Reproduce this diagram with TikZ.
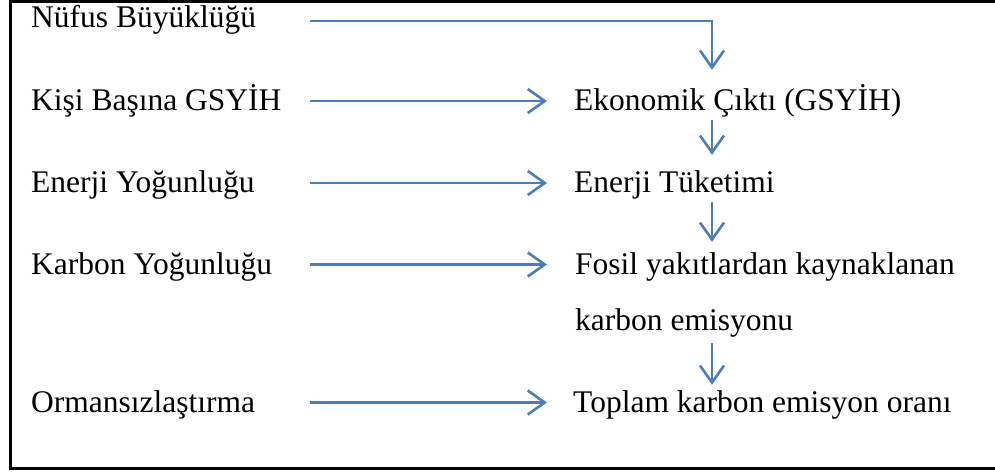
\documentclass[tikz,border=0pt]{standalone}
\usepackage{fontspec}
\setmainfont{Liberation Serif}
\usetikzlibrary{arrows.meta}
\definecolor{arrowblue}{RGB}{74,126,187}

\begin{document}
\begin{tikzpicture}[x=1pt,y=1pt]
\tikzset{every node/.style={inner sep=0pt,text height=20pt,text depth=0pt,anchor=west,font=\fontsize{31.5}{38}\selectfont}}
\tikzset{arr/.style={draw=arrowblue,line width=2.6pt,-{Straight Barb[length=17pt,width=24pt]}}}
\useasboundingbox (0,0) rectangle (995,-473);
\draw [black,line width=2.8pt] (995,-1.2) -- (10.5,-1.2) -- (10.5,-468.5) -- (995,-468.5);
\coordinate (lx) at (310,0);
\coordinate (cx) at (712,0);
% left column
\node [text height=14pt] (nufus) at (31,-21) {Nüfus Büyüklüğü};
\node (kisi) at (31,-101) {Kişi Başına GSYİH};
\node (enerjiy) at (31,-183) {Enerji Yoğunluğu};
\node (karbony) at (31,-264.5) {Karbon Yoğunluğu};
\node (orman) at (31,-402.5) {Ormansızlaştırma};
% right column
\node (eko) at (574,-101) {Ekonomik Çıktı (GSYİH)};
\node (enerjit) at (574,-183) {Enerji Tüketimi};
\node (fosil) at (575,-264.5) {Fosil yakıtlardan kaynaklanan};
\node (karbone) at (575,-320) {karbon emisyonu};
\node (toplam) at (573,-402.5) {Toplam karbon emisyon oranı};
% arrows
\draw [arr,shorten >=21pt] (nufus.east -| lx) -| (cx |- eko.north);
\draw [arr,shorten >=27pt] (kisi.east -| lx) -- (eko.west);
\draw [arr,shorten >=27pt] (enerjiy.east -| lx) -- (enerjit.west);
\draw [arr,shorten >=28pt] (karbony.east -| lx) -- (fosil.west);
\draw [arr,shorten >=26pt] (orman.east -| lx) -- (toplam.west);
\draw [arr,shorten <=9pt,shorten >=18pt] (eko.south -| cx) -- (enerjit.north -| cx);
\draw [arr,shorten <=9pt,shorten >=12.5pt] (enerjit.south -| cx) -- (fosil.north -| cx);
\draw [arr,shorten <=13pt,shorten >=7.5pt] (karbone.south -| cx) -- (toplam.north -| cx);
\end{tikzpicture}
\end{document}
